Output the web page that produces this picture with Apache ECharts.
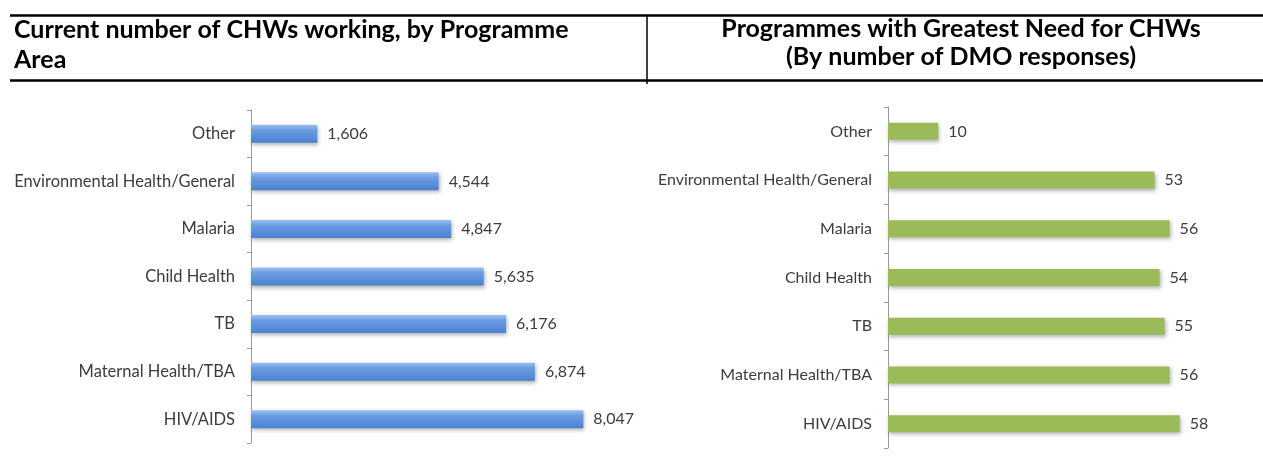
<!DOCTYPE html>
<html>
<head>
<meta charset="utf-8">
<script src="https://cdn.jsdelivr.net/npm/echarts@6/dist/echarts.min.js"></script>
<style>
  html, body { margin: 0; padding: 0; background: #fff; }
  #main { width: 1263px; height: 466px; }
</style>
</head>
<body>
<div id="main"></div>
<script>
// programme areas, top to bottom as shown
const categories = ['Other', 'Environmental Health/General', 'Malaria', 'Child Health', 'TB', 'Maternal Health/TBA', 'HIV/AIDS']
// current number of CHWs working
const chwCounts = [1606, 4544, 4847, 5635, 6176, 6874, 8047]
// number of DMO responses naming the programme
const dmoResponses = [10, 53, 56, 54, 55, 56, 58]

const leftTitle = ['Current number of CHWs working, by Programme', 'Area']
const rightTitle = ['Programmes with Greatest Need for CHWs', '(By number of DMO responses)']

const labelFont = 'Lato, "Open Sans", sans-serif'
const textColor = '#3c3c3c'

const chart = echarts.init(document.getElementById('main'))

/* table header: rules + text */
const headFont = 'bold 25px ' + labelFont
const headerGraphics = [
  { type: 'line', shape: { x1: 10, y1: 15.5, x2: 1263, y2: 15.5 }, style: { stroke: '#000', lineWidth: 2.5 } },
  { type: 'line', shape: { x1: 10, y1: 80.5, x2: 1263, y2: 80.5 }, style: { stroke: '#000', lineWidth: 2.5 } },
  { type: 'line', shape: { x1: 647, y1: 15, x2: 647, y2: 84 }, style: { stroke: '#000', lineWidth: 1.5 } },
  { type: 'text', left: 14, top: 17, style: { text: leftTitle[0], font: headFont, fill: '#000' } },
  { type: 'text', left: 14, top: 47, style: { text: leftTitle[1], font: headFont, fill: '#000' } },
  { type: 'text', x: 961, y: 16, style: { text: rightTitle[0], font: headFont, fill: '#000', align: 'center' } },
  { type: 'text', x: 961, y: 44, style: { text: rightTitle[1], font: headFont, fill: '#000', align: 'center' } }
]

const catAxis = (gridIndex, size) => ({
  type: 'category',
  gridIndex: gridIndex,
  inverse: true,
  data: categories,
  axisLine: { lineStyle: { color: '#9a9a9a', width: 1 } },
  axisTick: { show: true, length: 4, lineStyle: { color: '#9a9a9a' } },
  axisLabel: { margin: 16, fontFamily: labelFont, fontSize: size, color: textColor }
})

const valAxis = (gridIndex, max) => ({
  type: 'value',
  gridIndex: gridIndex,
  min: 0,
  max: max,
  show: false,
  splitLine: { show: false }
})

const barShadow = {
  shadowBlur: 4,
  shadowOffsetY: 2,
  shadowOffsetX: 1,
  shadowColor: 'rgba(0,0,0,0.3)'
}

const option = {
  animation: false,
  graphic: headerGraphics,
  grid: [
    { left: 251, top: 110, width: 413, height: 333 },
    { left: 888, top: 107, width: 352, height: 341 }
  ],
  xAxis: [valAxis(0, 10000), valAxis(1, 70)],
  yAxis: [catAxis(0, 16.5), catAxis(1, 16)],
  series: [
    {
      type: 'bar',
      xAxisIndex: 0,
      yAxisIndex: 0,
      data: chwCounts,
      barWidth: 18,
      itemStyle: Object.assign({
        color: new echarts.graphic.LinearGradient(0, 0, 0, 1, [
          { offset: 0, color: '#9cc0ee' },
          { offset: 0.3, color: '#6b9de3' },
          { offset: 1, color: '#4a80d0' }
        ])
      }, barShadow),
      label: {
        show: true,
        position: 'right',
        distance: 10,
        fontFamily: labelFont,
        fontSize: 16,
        color: textColor,
        formatter: (p) => p.value.toLocaleString('en-US')
      }
    },
    {
      type: 'bar',
      xAxisIndex: 1,
      yAxisIndex: 1,
      data: dmoResponses,
      barWidth: 17,
      itemStyle: Object.assign({ color: '#9bbb59' }, barShadow),
      label: {
        show: true,
        position: 'right',
        distance: 10,
        fontFamily: labelFont,
        fontSize: 16,
        color: textColor
      }
    }
  ]
}
chart.setOption(option)
</script>
</body>
</html>
